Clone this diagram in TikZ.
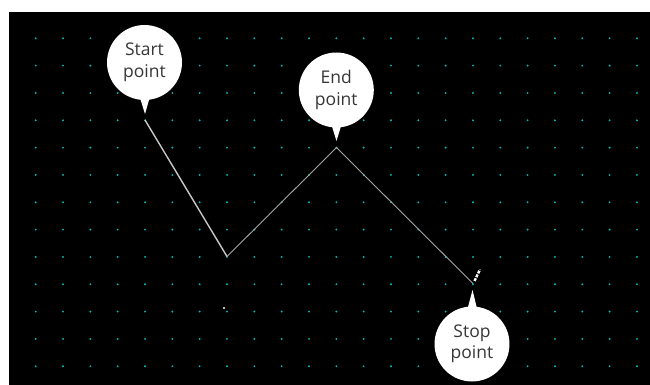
\documentclass[tikz,border=0pt]{standalone}
\usepackage{fontspec}
\setmainfont{Open Sans}
\usetikzlibrary{shapes.callouts}
\definecolor{griddot}{RGB}{0,190,190}
\definecolor{pathgray}{RGB}{165,165,165}
\definecolor{labelgray}{RGB}{55,55,55}
\tikzset{
  bubble/.style={ellipse callout, fill=white, draw=none, minimum width=75pt,
    minimum height=75pt, inner sep=0pt, align=center, text=labelgray,
    font=\fontsize{17.5}{21.5}\selectfont, callout pointer arc=13},
  firstleg/.style={draw={rgb,255:red,200;green,200;blue,200}, line width=1.4pt},
  nextleg/.style={draw=pathgray, line width=0.9pt}
}
\begin{document}
\begin{tikzpicture}[x=1pt,y=-1pt]
            \useasboundingbox (0,0) rectangle (650,385);
            \fill[white] (0,0) rectangle (650,385);
            \fill[black] (9,12) rectangle (650,385);
            % dotted grid
            \foreach \i in {0,...,22}
              \foreach \j in {0,...,12}
                \fill[griddot] (35.7+27.33*\i, 38.3+27.33*\j) circle (1.05);
            \coordinate (startpt) at (145,120);
            \coordinate (lowpt) at (227,256.5);
            \coordinate (endpt) at (336.5,147.6);
            \coordinate (stoppt) at (473,283.5);
            \draw[firstleg] (startpt) -- (lowpt);
            \draw[nextleg] (lowpt) -- (endpt) -- (stoppt);
            \coordinate (markA) at (474.5,281);
            \coordinate (markB) at (480,269.5);
            \draw[white, line width=2.4pt, dash pattern=on 3pt off 1.2pt] (markA) -- (markB);
            \fill[white] (224,308) circle (1.2);
            \node[bubble, callout absolute pointer={(145,114)}] (startlbl) at (144.5,62.5) {Start\\point};
            \node[bubble, callout absolute pointer={(336.5,141)}] (endlbl) at (336.3,90) {End\\point};
            \node[bubble, callout absolute pointer={(472.5,290)}] (stoplbl) at (472,344) {Stop\\point};
        \end{tikzpicture}
\end{document}
